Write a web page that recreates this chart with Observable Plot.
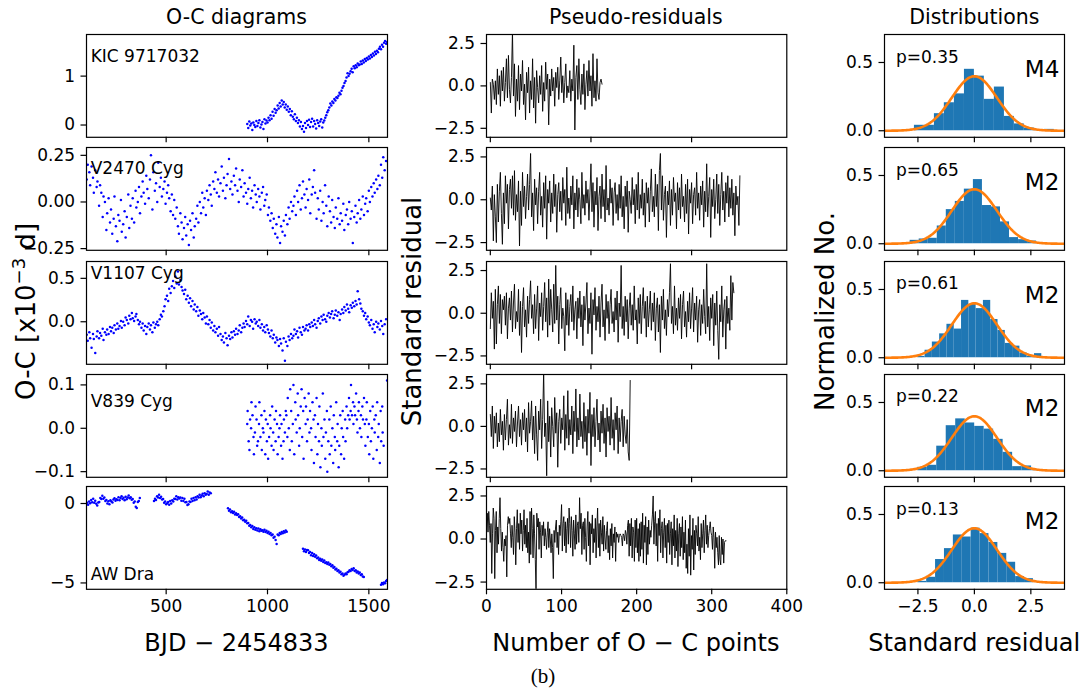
<!DOCTYPE html>
<html><head><meta charset="utf-8">
<script src="https://cdn.jsdelivr.net/npm/d3@7"></script>
<script src="https://cdn.jsdelivr.net/npm/@observablehq/plot@0.6"></script>
<style>
html,body{margin:0;padding:0;background:#fff;}
#root{position:relative;width:1085px;height:695px;overflow:hidden;background:#fff;}
#root svg{position:absolute;}
</style></head><body><div id="root"></div>
<script>
// ---------------- DATA ----------------
const starNames = ["KIC 9717032", "V2470 Cyg", "V1107 Cyg", "V839 Cyg", "AW Dra"];
const pLabels = ["p=0.35", "p=0.65", "p=0.61", "p=0.22", "p=0.13"];
const modelLabels = ["M4", "M2", "M2", "M2", "M2"];

// O-C diagrams: times (BJD-2454833) and O-C values (x10^-3 d)
const kicT = [900,905,910,915,920,925,930,935,940,945,950,955,960,965,970,975,980,985,990,995,
1000,1005,1010,1015,1020,1025,1030,1035,1040,1045,1050,1055,1060,1065,1070,1075,1080,1085,1090,1095,
1100,1105,1110,1115,1120,1125,1130,1135,1140,1145,1150,1155,1160,1165,1170,1175,1180,1185,1190,1195,
1200,1205,1210,1215,1220,1225,1230,1235,1240,1245,1250,1255,1260,1265,1270,1275,1280,1285,1290,1295,
1300,1305,1310,1315,1320,1325,1330,1335,1340,1345,1350,1355,1360,1365,1370,1375,1380,1385,1390,1395,
1400,1405,1410,1415,1420,1425,1430,1435,1440,1445,1450,1455,1460,1465,1470,1475,1480,1485,1490,1495,
1500,1505,1510,1515,1520,1525,1530,1535,1540,1545,1550,1555,1560,1565,1570,1575,1580,1585,1590];
const kicOC = [.02,-.06,.07,-.01,.03,-.1,.05,.0,-.04,.08,-.02,.04,.1,-.05,.01,.06,-.08,.12,.03,.09,
.05,.15,.1,.2,.13,.27,.19,.33,.25,.3,.4,.34,.45,.38,.5,.42,.47,.36,.42,.31,
.38,.27,.33,.2,.28,.17,.12,.22,.08,.15,.04,.1,-.03,.06,-.08,-.02,-.14,.04,-.06,.08,
.0,.11,-.04,.06,.13,-.03,.08,.02,-.07,.1,.04,-.02,.07,.12,-.05,.05,.09,.15,.2,.26,
.3,.36,.44,.4,.48,.45,.53,.5,.57,.55,.6,.66,.63,.7,.76,.8,.86,.9,.97,1.06,
1.0,1.05,1.1,1.15,1.08,1.2,1.16,1.22,1.18,1.26,1.22,1.24,1.3,1.25,1.32,1.28,1.35,1.31,1.37,1.34,
1.4,1.36,1.43,1.39,1.46,1.42,1.5,1.45,1.52,1.49,1.56,1.6,1.55,1.64,1.6,1.68,1.72,1.66,1.7];

const kepT = [108,113,121,125,132,139,143,150,157,161,169,174,180,187,191,198,205,209,216,223,
228,234,241,245,252,259,264,270,277,281,288,295,300,306,313,318,324,331,335,342,
349,353,360,366,371,378,384,389,396,402,407,414,420,425,432,437,444,450,456,461,
468,474,479,486,492,497,504,510,515,522,528,534,540,545,552,558,563,570,576,581,
588,594,599,606,612,618,623,630,636,641,648,654,659,666,672,678,683,690,696,701,
708,714,720,725,732,738,743,750,756,761,768,774,780,785,792,798,803,810,816,822,
827,834,840,845,852,858,863,870,876,882,887,894,900,905,912,918,924,929,936,942,
947,954,960,965,972,978,984,989,996,1002,1007,1014,1020,1026,1031,1038,1044,1049,1056,1062,
1067,1074,1080,1086,1091,1098,1104,1109,1116,1122,1128,1133,1140,1146,1151,1158,1164,1170,1175,1182,
1188,1193,1200,1206,1211,1218,1224,1230,1235,1242,1248,1253,1260,1266,1272,1277,1284,1290,1295,1302,
1308,1314,1319,1326,1332,1337,1344,1350,1356,1361,1368,1374,1379,1386,1392,1398,1403,1410,1416,1421,
1428,1434,1440,1445,1452,1458,1463,1470,1476,1482,1487,1494,1500,1505,1512,1518,1524,1529,1536,1542,
1547,1554,1560,1566,1571,1578,1585];
const v2470OC = [.12,.2,.16,.09,.19,.13,.05,.17,.08,.11,-.02,.09,.05,-.08,.03,.0,-.15,-.06,.02,-.11,
-.04,-.17,-.09,.03,-.13,-.21,-.07,-.1,.01,-.16,-.12,-.05,-.19,-.08,.04,-.14,-.02,-.09,.02,-.11,
.06,-.03,.0,.08,-.06,.03,.11,.05,-.01,.14,.07,.02,.12,.25,-.04,.16,.06,.1,.0,.21,
.08,.13,.03,.07,.11,-.01,.05,.09,.02,-.05,.04,-.07,.01,-.09,-.03,-.13,-.17,-.06,-.11,-.2,
-.14,-.08,-.18,-.12,-.23,-.1,-.15,-.06,-.19,-.13,-.09,-.02,-.11,.0,-.06,.05,-.03,.02,-.07,.06,
.01,.09,.04,-.02,.11,.07,.16,.05,.12,.03,.1,.19,.06,.13,.02,.09,.15,.23,.07,.11,
.04,.14,.09,.18,.06,.0,.12,.08,.17,.03,.1,.05,-.01,.07,.13,.02,.06,-.03,.09,.04,
.0,.07,.03,-.04,.05,.08,-.02,.01,.04,-.07,-.03,-.1,-.06,-.14,-.09,-.17,-.12,-.19,-.08,-.22,
-.13,-.16,-.1,-.18,-.07,-.12,-.03,-.09,.0,-.05,-.02,.03,-.07,.06,.0,.09,-.04,.02,.11,.04,
-.03,.07,.01,.12,-.06,.04,.08,.17,.05,-.09,.02,-.04,.06,-.1,.0,-.06,.09,-.02,-.13,.03,
-.05,-.11,.01,-.08,-.14,-.03,-.09,.02,-.12,-.06,-.1,-.01,-.15,-.07,-.04,-.12,.0,-.09,-.05,-.22,
-.08,-.02,-.11,-.06,.01,-.09,-.04,.03,-.07,-.01,.02,-.05,.06,.0,.08,.03,.1,.05,.12,.07,
.14,.09,.2,.13,.24,.17,.22];
const v1107OC = [-.15,-.22,-.12,-.19,-.3,-.14,-.2,-.36,-.17,-.11,-.19,-.13,-.16,-.08,-.21,-.12,-.15,-.09,-.14,-.06,
-.11,-.07,-.13,-.04,-.09,-.02,-.08,-.05,.01,-.07,.0,-.04,.05,.02,-.02,.07,.03,.1,.04,.01,
.06,.09,.02,-.03,.0,-.07,-.02,-.1,-.05,-.14,-.06,-.02,-.09,-.04,-.12,-.01,-.07,-.03,.0,-.04,
.03,.08,.06,.12,.18,.26,.3,.24,.38,.33,.41,.47,.39,.52,.44,.58,.43,.48,.4,.36,
.32,.37,.26,.3,.22,.27,.18,.24,.14,.2,.12,.17,.07,.13,.09,.03,.1,.05,-.02,.06,
-.03,.02,-.07,-.01,-.1,-.05,-.12,-.08,-.16,-.06,-.14,-.21,-.17,-.24,-.13,-.19,-.27,-.16,-.2,-.12,
-.18,-.11,-.15,-.08,-.14,-.1,-.04,-.12,-.07,-.02,-.06,.01,-.03,.06,-.05,.02,.0,-.08,.03,-.02,
.0,-.05,.02,-.07,-.03,-.1,-.06,-.12,-.04,-.09,-.13,-.17,-.1,-.19,-.15,-.24,-.18,-.21,-.28,-.2,
-.25,-.33,-.19,-.45,-.23,-.28,-.17,-.21,-.14,-.19,-.16,-.09,-.14,-.11,-.18,-.07,-.12,-.15,-.06,-.1,
-.08,-.04,-.1,-.03,-.06,-.01,-.05,.02,-.03,-.07,.01,.04,-.02,.06,.02,.08,.03,.0,.07,.1,
.05,.09,.12,.04,.08,.13,.07,.11,.02,.09,.14,.1,.17,.13,.2,.15,.11,.19,.16,.22,
.18,.24,.2,.35,.26,.21,.15,.12,.07,.1,.03,.06,-.01,-.04,.02,-.08,-.03,-.12,.0,-.06,
-.02,-.09,.01,-.05,-.14,-.03,.03];

const v839T = [900,902,907,911,914,919,921,926,931,933,938,941,946,949,953,958,960,965,970,972,977,980,985,989,992,
997,1001,1003,1008,1013,1015,1020,1023,1028,1030,1035,1040,1042,1047,1050,1055,1059,1062,1067,1069,1074,1079,1081,1086,1090,
1093,1098,1100,1105,1110,1112,1117,1120,1125,1128,1132,1137,1139,1144,1149,1151,1156,1159,1164,1168,1171,1176,1178,1183,1188,
1190,1195,1198,1203,1207,1210,1215,1217,1222,1227,1229,1234,1237,1242,1246,1249,1254,1256,1261,1266,1268,1273,1276,1281,1285,
1288,1293,1295,1300,1305,1307,1312,1315,1320,1324,1327,1332,1334,1339,1344,1346,1351,1354,1359,1363,1366,1371,1373,1378,1383,
1385,1390,1393,1398,1402,1405,1410,1412,1417,1422,1424,1429,1432,1437,1441,1444,1449,1451,1456,1461,1463,1468,1471,1476,1480,
1483,1488,1490,1495,1500,1502,1507,1510,1515,1519,1522,1527,1529,1534,1539,1541,1546,1549,1554,1558,1561,1566,1568,1573,1590];
const v839OC = [.01,.04,-.03,-.05,.02,.0,.06,.03,-.02,-.06,-.01,.05,.02,-.04,-.03,.01,.06,-.02,.03,-.05,.0,-.01,.04,-.06,.02,
-.03,.01,-.07,-.02,.03,.0,-.04,.05,-.01,-.05,.02,-.03,.04,.01,-.06,-.02,.0,.03,-.04,.01,-.07,-.03,.02,-.01,.04,
.03,-.02,.07,.0,-.05,.09,.04,-.03,.01,.1,-.06,.06,.02,-.01,.08,.03,-.04,.0,.05,.09,-.02,.04,-.07,.07,.01,
.05,-.03,.02,.08,-.01,.04,.0,-.05,.06,.02,-.08,.03,-.02,.07,-.06,.01,-.03,.05,-.09,.0,-.04,.08,-.02,.02,-.07,
-.01,.04,-.1,-.03,.02,-.06,.05,-.04,.0,-.08,.03,-.02,-.05,.06,-.03,.01,-.09,-.04,.03,-.06,.0,.04,-.02,-.07,.02,
-.03,.05,.0,.03,.07,.02,.04,.1,.03,.06,.01,.05,.03,.08,.02,-.01,.04,.06,.0,.03,-.02,.05,.02,.07,.01,
-.04,.02,.06,-.02,.01,-.06,.04,-.03,.0,.05,-.07,.02,-.01,.03,-.05,.06,-.02,.01,-.08,.04,-.03,.05,-.01,-.04,.11];

const awT = [110,115,120,125,130,135,140,145,150,155,160,165,170,175,180,185,190,195,200,205,
210,215,220,225,230,235,240,245,250,255,260,265,270,275,280,285,290,295,300,305,
310,315,320,325,330,335,340,345,350,355,360,365,370,
440,445,450,455,460,465,470,475,480,485,490,495,500,505,510,515,520,525,530,535,
540,545,550,555,560,565,570,575,580,585,590,595,600,605,610,615,620,625,630,635,
640,645,650,655,660,665,670,675,680,685,690,695,700,705,710,715,720,
805,810,815,820,825,830,835,840,845,850,855,860,865,870,875,880,885,890,895,900,
905,910,915,920,925,930,935,940,945,950,955,960,965,970,975,980,985,990,995,1000,
1005,1010,1015,1020,1025,1030,1035,1040,1045,1050,1055,1060,1065,1070,1075,1080,1085,1090,1095,
1175,1180,1185,1190,1195,1200,1205,1210,1215,1220,1225,1230,1235,1240,1245,1250,1255,1260,1265,1270,
1275,1280,1285,1290,1295,1300,1305,1310,1315,1320,1325,1330,1335,1340,1345,1350,1355,1360,1365,1370,
1375,1380,1385,1390,1395,1400,1405,1410,1415,1420,1425,1430,1435,1440,1445,1450,1455,1460,1465,1470,1475,
1560,1565,1570,1575,1580,1585,1590];
const awOC = [.05,-.08,.12,.02,.22,.08,.3,.05,.18,-.02,-.12,.07,.1,.35,.28,.48,.3,.38,.15,.22,
.0,.14,-.05,.2,.12,.06,.25,.33,.18,.27,.22,.4,.2,.35,.45,.28,.36,.2,.42,.26,
.38,.5,.33,.4,.24,.28,.05,.12,-.2,-.28,.1,.15,.35,
.15,.3,.22,.45,.38,.55,.35,.42,.25,.28,.05,.12,-.05,.02,.1,-.08,.15,.0,.2,.12,
.3,.28,.45,.25,.4,.32,.38,.18,.35,.15,.3,.08,.1,-.1,-.05,.12,.1,.3,.15,.35,
.2,.4,.25,.45,.38,.55,.4,.5,.62,.45,.65,.55,.6,.75,.55,.7,.65,
-.3,-.45,-.38,-.55,-.48,-.6,-.52,-.7,-.62,-.72,-.68,-.85,-.8,-.95,-.88,-1.05,-1.02,-1.15,-1.08,-1.25,
-1.22,-1.4,-1.35,-1.5,-1.42,-1.6,-1.5,-1.65,-1.55,-1.7,-1.58,-1.75,-1.62,-1.72,-1.68,-1.78,-1.65,-1.8,-1.72,-1.85,
-1.78,-1.92,-1.85,-2.0,-1.95,-2.15,-2.1,-2.3,-2.55,-1.95,-2.0,-1.85,-1.92,-1.8,-1.88,-1.75,-1.82,-1.7,-1.78,
-2.85,-3.0,-2.9,-3.05,-2.92,-2.95,-3.12,-3.05,-3.25,-3.12,-3.3,-3.2,-3.35,-3.28,-3.45,-3.4,-3.55,-3.48,-3.6,-3.52,
-3.68,-3.58,-3.75,-3.7,-3.8,-3.72,-3.85,-3.8,-3.95,-3.88,-4.05,-4.0,-4.15,-4.1,-4.25,-4.2,-4.35,-4.3,-4.45,-4.4,
-4.55,-4.48,-4.4,-4.45,-4.32,-4.3,-4.2,-4.25,-4.12,-4.18,-4.08,-4.25,-4.2,-4.35,-4.28,-4.4,-4.35,-4.5,-4.45,-4.6,-4.62,
-5.12,-5.0,-5.08,-4.98,-5.02,-4.88,-4.82];

// Pseudo-residuals (standard residual per O-C point)
const resKIC = [.2,-1.6,.4,.1,-.8,.3,-1.1,1.0,-.5,.6,-1.2,.9,-.3,1.1,-.9,.2,1.6,-.7,1.8,-.2,
-1.0,.5,3.2,-.6,1.3,-1.8,.4,-.9,1.2,-1.4,.7,-.3,1.5,-1.1,.1,-2.0,.8,-.4,1.1,-1.6,
.3,-.8,1.6,-1.3,.5,-2.2,.9,-.1,-1.0,.6,-.5,1.2,-1.5,.2,-.9,1.4,-.2,.7,-2.3,.4,
-.6,1.0,-.3,.5,-1.2,.8,-.1,1.1,-.8,.3,1.7,-.4,.6,-1.0,.2,1.3,-.7,.0,-.4,.9,
-.9,.4,-.3,2.4,-2.6,.5,1.2,-.8,1.6,-.2,-1.1,.7,-.5,1.3,-1.4,.1,.9,-.6,1.5,-.3,
.6,-1.2,1.9,-.7,.3,-.9,1.6,-.4,-.8,.2,.4,.1];
const resV2470 = [.1,-.6,.8,-2.4,.3,-1.0,-2.5,.9,-1.3,.5,1.6,-.8,-2.6,.4,-1.4,1.4,-.2,.9,-1.7,.6,
1.2,-.5,1.4,-.9,1.7,-1.2,.3,-.7,1.1,-2.7,.5,-1.5,1.6,-.4,.8,-1.1,.2,1.5,-.6,.9,
2.7,-1.0,.4,-1.8,1.2,-.3,.7,-1.4,.5,1.6,-.9,.2,-1.6,1.0,-.5,1.4,-2.3,.6,-.2,1.1,
-1.3,.4,-.8,1.5,-.4,.9,-1.9,.3,1.0,-.7,.5,-1.2,1.3,-.2,.6,-1.5,1.9,-.8,.1,-1.1,
.8,-.3,1.4,-1.7,.4,-.6,1.2,-1.0,.7,.0,-1.4,1.6,-.5,.3,-.9,1.1,-.2,.6,-1.2,.4,
2.1,-.7,1.0,-1.6,.5,-.3,1.3,-1.8,.2,.8,-1.1,1.5,-.4,.6,-1.3,2.0,-.6,.1,-.9,1.2,
-.2,.7,-1.5,.4,1.0,-.8,.3,-1.2,.9,-.5,1.4,-1.0,.2,-1.7,.8,-.4,1.1,-1.9,.5,.0,
-.8,1.3,-.3,.6,-1.4,.9,-.6,1.6,-1.1,.3,-.5,1.2,-.9,.4,-1.6,1.0,-.2,.7,-1.3,.5,
1.8,-.7,.2,-1.0,1.5,-.4,.9,-1.8,1.7,2.7,-.6,1.4,-1.2,.3,.8,-2.2,.5,-.3,1.1,-1.5,
.6,-.9,1.3,-.1,.4,-1.7,1.0,-.6,.7,-1.1,1.5,-.4,.2,-1.3,.9,-.8,1.2,-2.0,.6,-.2,
1.0,-1.4,.3,.7,-.9,1.6,-.5,.4,-1.2,.8,-.3,1.1,-1.6,.5,-.7,2.1,-1.0,.2,1.3,-2.2,
.6,-.4,1.2,-1.1,.0,1.5,-.8,.9,-1.5,.3,1.6,-.6,.5,-1.3,1.0,-.2,1.4,-1.0,.7,-.5,
1.2,-.9,.4,-2.1,.8,-.3,.2,-1.5,1.4];
const resV1107 = [-.9,1.2,-.3,.7,-2.1,1.4,-1.8,.5,1.6,-.6,1.1,-1.2,.8,.2,1.0,-.7,1.2,-1.5,.3,.9,
-.4,1.3,-1.1,.6,1.7,-.9,.1,-.5,1.4,-1.3,.7,-2.3,.4,1.5,-.8,.2,-1.4,1.0,-.6,.8,
1.9,-.3,.5,-1.2,1.1,-.9,.3,1.6,-1.6,.6,-.2,1.2,-1.0,.4,1.8,-.5,.9,-1.4,2.0,-.7,
1.4,.2,-1.1,1.7,-.6,2.8,-.4,1.0,-1.8,.5,1.5,-.9,.3,-.2,-2.2,1.2,-.7,.8,-1.3,.4,
1.1,-.5,1.6,-1.0,.2,.7,-1.5,.9,-.3,1.3,-.8,.5,-1.9,1.0,-.4,.6,1.8,-1.2,.3,-.6,
1.2,-2.4,.8,-.1,1.5,-1.0,.4,-.5,1.0,-1.4,.6,1.7,-.8,.2,-1.6,1.1,-.3,.7,-1.2,.5,
1.4,-.6,.1,-1.1,.9,-.4,1.3,-1.7,.6,-.2,2.8,-.9,.4,-1.3,1.0,-.5,.8,-1.5,.3,1.2,
-.7,.5,-1.0,1.6,-.4,.2,-1.8,.9,-.6,1.1,-1.2,.4,1.5,-.3,.7,-1.4,1.0,-.8,.2,1.3,
-1.0,.6,-.5,1.2,-1.6,.3,.9,-1.1,.5,-2.3,1.0,-.4,1.4,-.9,.2,-1.3,.8,-.2,1.2,2.9,
-.6,.4,-1.2,1.6,-.7,.3,-1.0,.9,-.3,1.1,-1.5,.5,1.3,-.8,.1,-1.4,.7,-.5,1.2,-.9,
.3,1.5,-1.1,.6,-.4,1.0,-1.7,.2,.8,-1.3,.5,-.6,1.4,-.2,-1.2,2.9,-.8,.4,-1.6,.9,
-.3,1.1,-1.9,.6,-.7,1.3,-1.0,-2.7,.5,-.5,1.6,-1.4,.2,.8,-2.1,1.0,-.6,.3,-1.0,2.2,
-.4,1.8,1.2];
const resV839 = [.7,-.6,1.2,-1.3,.6,-.4,.8,-1.2,.2,-.9,1.0,-.5,.3,-1.4,.7,-.8,.4,1.6,-1.1,.1,
-.7,1.3,-1.0,.5,-.3,.9,-1.2,.2,1.2,-.6,.4,-1.1,.8,-.2,1.0,-.9,.5,-1.5,1.4,-.4,
.3,1.5,-.8,.6,-1.6,1.2,-.5,-2.0,.9,-.2,1.6,-1.3,.4,3.2,-.6,.2,-2.9,1.5,-.9,.6,
-1.8,1.1,.0,-1.2,1.7,-.4,.8,-2.4,.3,1.0,-1.0,.5,-.2,1.8,-1.4,.7,-.7,2.1,-1.1,.4,
-.5,1.2,-1.6,.9,-.3,2.2,-1.2,.5,-.8,1.9,-.6,.3,-1.3,1.4,-.9,.6,-1.7,1.0,-.4,2.0,
-2.3,.7,-.6,1.1,-1.2,.3,1.6,-.8,.2,-1.5,.9,-.4,1.3,-1.0,.5,-1.8,1.1,-.3,.6,-1.1,
1.7,-.7,.4,-1.4,.8,-.2,1.2,-1.6,.5,-.9,.3,1.0,-1.2,.6,-.5,-1.0,.4,-1.5,-2.0,2.7];
const resAW = [.6,1.5,.4,1.6,.8,-.2,.9,-2.0,.3,1.8,1.2,-2.3,.5,1.6,-.8,.7,-.3,1.2,2.4,.6,
-.7,.4,-.5,-1.3,.0,-.4,.2,-2.2,.8,1.3,.9,1.2,.3,-.5,.8,.1,-.9,1.3,.4,-1.5,
.6,1.7,-.2,.9,-.6,1.5,.3,1.1,-.7,.5,1.7,-.3,.8,-.5,1.2,-.8,.4,-1.4,1.6,-.9,
1.8,.6,-1.1,1.4,.3,-1.2,-3.2,1.5,.7,1.2,-.6,1.0,.4,-1.1,.8,.2,1.0,-.4,.6,.1,
-.6,.4,1.0,-.5,.6,.0,-.8,.3,-.5,-2.3,.5,-.2,.7,1.1,-.5,.4,-.9,.8,.2,1.0,
2.0,-.7,.9,1.3,-.4,1.0,-.8,.6,1.2,-.3,1.8,.9,-.5,1.3,.5,-1.0,1.1,.3,-.6,1.4,
-.3,.8,1.0,-.2,2.4,.6,1.5,-.9,.8,1.0,-.6,1.2,.1,-1.3,.7,1.6,-.4,1.0,-1.5,.9,
.3,1.4,-.8,.6,-.2,1.2,-1.1,.7,1.8,-.5,.9,-1.0,1.1,.4,-.3,1.3,-.7,.8,.0,-.6,
.5,1.0,-.8,.2,-1.2,.6,-.4,.9,-1.1,.3,-.2,.7,-1.3,.4,.1,.3,-.2,.2,.3,.2,
.1,-.4,.3,.2,-.1,.5,.3,-.3,.8,1.1,-1.0,.9,-.4,1.2,-1.1,.7,.4,-1.3,1.1,-.5,
1.2,-.8,.6,-1.3,.9,-1.0,1.0,-.6,1.5,-1.4,.8,-.2,1.3,-1.5,.7,-.9,1.1,-.3,.5,.1,
.8,1.4,2.5,-.3,1.0,1.6,-.4,.9,-1.3,1.2,.2,1.7,-.8,.6,1.0,-1.1,.4,1.2,-.5,.8,
-1.4,.9,-.2,1.1,-.9,.3,1.0,-1.5,.6,-.4,1.4,-1.1,.5,-.7,1.2,-1.6,.3,.9,-1.0,.7,
-.5,1.3,-1.2,.4,-.8,1.1,-1.7,-.3,-2.0,.6,-1.0,1.4,-2.1,.2,-.6,1.2,-1.8,.5,-.9,.8,
.3,-.4,1.3,-.7,.1,-1.2,.9,-.5,.3,1.1,-.8,.5,1.4,-.3,.8,-.5,.2,.6,1.0,.4,
.2,-.6,.7,.1,-1.7,.4,-.5,.1,-.8,-1.5,.2,-1.2,-1.5,.1,-.9,.0,-1.4,-.2,-.1,-.1];

// Distributions: histogram bin edges and normalized heights
const histEdges = [
  [-2.655,-2.21,-1.77,-1.33,-0.885,-0.44,0,0.44,0.885,1.33,1.77,2.21,2.655,3.1,3.54],
  [-2.844,-2.444,-2.044,-1.644,-1.244,-0.844,-0.444,-0.044,0.356,0.756,1.156,1.556,1.956,2.356,2.756],
  [-2.507,-2.184,-1.861,-1.538,-1.215,-0.892,-0.569,-0.246,0.077,0.4,0.723,1.046,1.369,1.692,2.015,2.338,2.661,2.984],
  [-2.507,-2.087,-1.667,-1.247,-0.827,-0.407,0.013,0.433,0.853,1.273,1.693,2.113,2.533,2.953],
  [-2.507,-2.113,-1.719,-1.325,-0.931,-0.537,-0.143,0.251,0.645,1.039,1.433,1.827,2.221,2.615]
];
const histHeights = [
  [.04,.04,.125,.205,.27,.45,.40,.23,.32,.105,.05,.02,.005,.01],
  [.025,.035,.04,.13,.25,.31,.40,.47,.28,.27,.16,.045,.03,.02],
  [.01,.055,.115,.175,.245,.21,.42,.39,.36,.42,.28,.20,.105,.085,.035,.01,.03],
  [.025,.04,.18,.33,.38,.35,.325,.305,.23,.135,.03,.035,.005],
  [.01,.04,.17,.25,.35,.335,.40,.36,.295,.215,.15,.045,.03]
];

const ocSeries = [[kicT, kicOC], [kepT, v2470OC], [kepT, v1107OC], [v839T, v839OC], [awT, awOC]];
const resSeries = [resKIC, resV2470, resV1107, resV839, resAW];

// axis settings per row
const ocYDomain = [[-0.251, 1.851], [-0.259, 0.292], [-0.49, 0.694], [-0.113, 0.124], [-5.4, 1.07]];
const ocYTicks = [[0, 1], [-0.25, 0, 0.25], [0, 0.5], [-0.1, 0, 0.1], [-5, 0]];
const ocYFmt = ["d", ".2f", ".1f", ".1f", "d"];
const resYDomain = [[-3.03, 3.03], [-2.95, 3.05], [-2.99, 3.03], [-2.99, 3.05], [-2.92, 3.05]];

// ---------------- LAYOUT ----------------
const root = document.getElementById("root");
const FONT = '"DejaVu Sans", sans-serif';
const TICK = 17;
const colX = [86, 485.7, 884.3];
const colW = [301, 300.3, 180];
const rowY = [34.4, 147.4, 260.8, 373.8, 486.4];
const rowH = 102.8;

function panel({col, row, x, y, xTicks, yTicks, xFmt, yFmt, xLabels, marks}) {
  const mL = 62, mR = 8, mT = 6, mB = xLabels ? 36 : 10;
  const fw = colW[col], fh = rowH;
  const svg = Plot.plot({
    width: fw + mL + mR, height: fh + mT + mB,
    marginLeft: mL, marginRight: mR, marginTop: mT, marginBottom: mB,
    x: {domain: x, label: null},
    y: {domain: y, label: null},
    style: {fontFamily: FONT, fontSize: TICK + "px", color: "#000", background: "transparent", overflow: "visible"},
    marks: [
      ...marks,
      Plot.frame({stroke: "#000", strokeWidth: 1.2}),
      Plot.axisX({ticks: xTicks, tickSize: 5.5, tickPadding: 5, strokeWidth: 1.2, fontSize: TICK,
        tickFormat: xLabels ? d3.format(xFmt) : () => "", label: null}),
      Plot.axisY({ticks: yTicks, tickSize: 5.5, tickPadding: 6, strokeWidth: 1.2, fontSize: TICK,
        tickFormat: d3.format(yFmt), label: null})
    ]
  });
  svg.style.position = "absolute";
  svg.style.left = (colX[col] - mL) + "px";
  svg.style.top = (rowY[row] - mT) + "px";
  root.appendChild(svg);
}

const zGrid = d3.range(-4, 4.0001, 0.05);
const normalPdf = z => Math.exp(-z * z / 2) / Math.sqrt(2 * Math.PI);

for (let r = 0; r < 5; r++) {
  const last = r === 4;
  const [t, v] = ocSeries[r];
  panel({col: 0, row: r, x: [107, 1592], y: ocYDomain[r], xTicks: [500, 1000, 1500], yTicks: ocYTicks[r],
    xFmt: "d", yFmt: ocYFmt[r], xLabels: last,
    marks: [Plot.dot(v, {x: t, y: v, r: 1.25, fill: "#0000ff", stroke: null, clip: true})]});

  const res = resSeries[r];
  panel({col: 1, row: r, x: last ? [0, 400] : [-3.8, 294.6], y: resYDomain[r],
    xTicks: last ? [0, 100, 200, 300, 400] : [0, 100, 200], yTicks: [-2.5, 0, 2.5],
    xFmt: "d", yFmt: ".1f", xLabels: last,
    marks: [Plot.lineY(res, {y: d => d, stroke: "#000", strokeWidth: 0.9, clip: true})]});

  const e = histEdges[r], h = histHeights[r];
  panel({col: 2, row: r, x: [-3.98, 3.99], y: [-0.048, 0.705], xTicks: [-2.5, 0, 2.5], yTicks: [0, 0.5],
    xFmt: ".1f", yFmt: ".1f", xLabels: last,
    marks: [
      Plot.rect(h, {x1: (d, i) => e[i], x2: (d, i) => e[i + 1], y1: () => 0, y2: d => d, fill: "#1f77b4", inset: 0}),
      Plot.line(zGrid, {x: d => d, y: normalPdf, stroke: "#ff7f0e", strokeWidth: 2.6, clip: true})
    ]});
}

// ---------------- TEXT OVERLAY ----------------
const ov = d3.create("svg").attr("width", 1085).attr("height", 695)
  .style("position", "absolute").style("left", "0px").style("top", "0px")
  .style("pointer-events", "none").style("font-family", FONT).attr("fill", "#000");

const titles = ["O-C diagrams", "Pseudo-residuals", "Distributions"];
titles.forEach((s, c) => ov.append("text").attr("x", colX[c] + colW[c] / 2).attr("y", 24)
  .attr("text-anchor", "middle").style("font-size", "20.5px").text(s));

const xLabels = ["BJD \u2212 2454833", "Number of O \u2212 C points", "Standard residual"];
xLabels.forEach((s, c) => ov.append("text").attr("x", colX[c] + colW[c] / 2).attr("y", 651)
  .attr("text-anchor", "middle").style("font-size", "24px").text(s));

const midY = 311.5;
const yl0 = ov.append("text").attr("transform", `translate(35,${midY}) rotate(-90)`)
  .attr("text-anchor", "middle").style("font-size", "26px");
yl0.append("tspan").text("O-C [x10");
yl0.append("tspan").attr("dy", -10).style("font-size", "18px").text("\u22123");
yl0.append("tspan").attr("dy", 10).text(" d]");
ov.append("text").attr("transform", `translate(421,${midY}) rotate(-90)`)
  .attr("text-anchor", "middle").style("font-size", "26px").text("Standard residual");
ov.append("text").attr("transform", `translate(834,${midY}) rotate(-90)`)
  .attr("text-anchor", "middle").style("font-size", "26px").text("Normalized No.");

const nameOffsets = [27.1, 26.7, 17.7, 33.3, 93.4];
for (let r = 0; r < 5; r++) {
  ov.append("text").attr("x", colX[0] + 4.7).attr("y", rowY[r] + nameOffsets[r])
    .style("font-size", "17px").text(starNames[r]);
  ov.append("text").attr("x", 896).attr("y", rowY[r] + 28.3)
    .style("font-size", "17px").text(pLabels[r]);
  ov.append("text").attr("x", 1059.3).attr("y", rowY[r] + 42.3).attr("text-anchor", "end")
    .style("font-size", "23px").text(modelLabels[r]);
}

ov.append("text").attr("x", 543).attr("y", 683).attr("text-anchor", "middle")
  .style("font-family", '"Liberation Serif", "DejaVu Serif", serif').style("font-size", "21px").text("(b)");

root.appendChild(ov.node());
</script></body></html>
